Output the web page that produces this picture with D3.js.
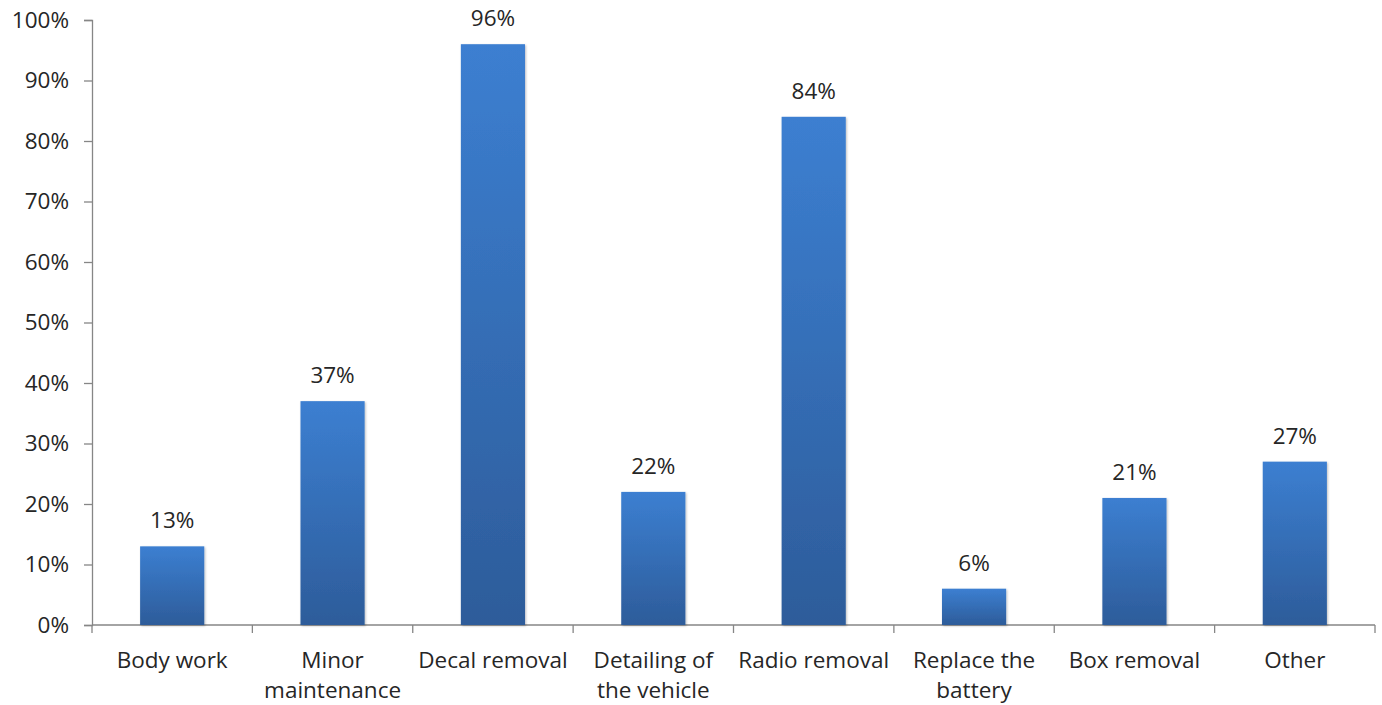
<!DOCTYPE html>
<html>
<head>
<meta charset="utf-8">
<script src="https://cdn.jsdelivr.net/npm/d3@7"></script>
<style>
  html, body { margin: 0; padding: 0; background: #fff; }
  svg text { font-family: "Open Sans", Lato, sans-serif; fill: #262626; }
</style>
</head>
<body>
<svg id="chart" width="1382" height="705"></svg>
<script>
// Share of vehicles needing each kind of work
const categories = [
  ["Body work"],
  ["Minor", "maintenance"],
  ["Decal removal"],
  ["Detailing of", "the vehicle"],
  ["Radio removal"],
  ["Replace the", "battery"],
  ["Box removal"],
  ["Other"]
];
const values = [13, 37, 96, 22, 84, 6, 21, 27];
const yTicks = [0, 10, 20, 30, 40, 50, 60, 70, 80, 90, 100];

const svg = d3.select("#chart");
const margin = { left: 92, right: 7, top: 20, bottom: 80 };
const width = 1382, height = 705;
const fontSize = "22.5px";

const x = d3.scaleBand()
  .domain(d3.range(categories.length))
  .range([margin.left, width - margin.right])
  .paddingInner(0.6)
  .paddingOuter(0.3);

const y = d3.scaleLinear()
  .domain([0, 100])
  .range([height - margin.bottom, margin.top]);

// vertical blue gradient used by every bar
const defs = svg.append("defs");
const grad = defs.append("linearGradient")
  .attr("id", "barFill").attr("x1", 0).attr("y1", 0).attr("x2", 0).attr("y2", 1);
grad.append("stop").attr("offset", "0%").attr("stop-color", "#3c7fd1");
grad.append("stop").attr("offset", "100%").attr("stop-color", "#2d5c9a");

const shadow = defs.append("filter").attr("id", "shadow")
  .attr("x", "-20%").attr("y", "-20%").attr("width", "140%").attr("height", "140%");
shadow.append("feDropShadow").attr("dx", 1).attr("dy", 1).attr("stdDeviation", 1.2)
  .attr("flood-color", "#000").attr("flood-opacity", 0.25);

// y axis
const yAxis = d3.axisLeft(y)
  .tickValues(yTicks)
  .tickSize(8)
  .tickPadding(15)
  .tickFormat(d => d + "%");
const gy = svg.append("g")
  .attr("transform", `translate(${margin.left},0)`)
  .call(yAxis);
gy.select(".domain").attr("stroke", "#868686").attr("stroke-width", 1.3);
gy.selectAll(".tick line").attr("stroke", "#868686").attr("stroke-width", 1.3);
gy.selectAll(".tick text").style("font-size", fontSize).attr("fill", "#262626");

// x axis baseline with category separators
const x0 = margin.left, x1 = width - margin.right;
const gx = svg.append("g");
gx.append("line")
  .attr("x1", x0).attr("x2", x1)
  .attr("y1", y(0)).attr("y2", y(0))
  .attr("stroke", "#868686").attr("stroke-width", 1.3);
gx.selectAll("line.sep")
  .data(d3.range(categories.length + 1))
  .join("line").attr("class", "sep")
  .attr("x1", i => x0 + i * (x1 - x0) / categories.length)
  .attr("x2", i => x0 + i * (x1 - x0) / categories.length)
  .attr("y1", y(0)).attr("y2", y(0) + 8)
  .attr("stroke", "#868686").attr("stroke-width", 1.3);

// bars
svg.append("g")
  .selectAll("rect")
  .data(values)
  .join("rect")
  .attr("x", (d, i) => x(i))
  .attr("y", d => y(d))
  .attr("width", x.bandwidth())
  .attr("height", d => y(0) - y(d))
  .attr("fill", "url(#barFill)")
  .attr("filter", "url(#shadow)");

// value labels
svg.append("g")
  .selectAll("text")
  .data(values)
  .join("text")
  .attr("x", (d, i) => x(i) + x.bandwidth() / 2)
  .attr("y", d => y(d) - 18)
  .attr("text-anchor", "middle")
  .style("font-size", fontSize)
  .text(d => d + "%");

// category labels (one or two lines)
const cat = svg.append("g")
  .selectAll("text")
  .data(categories)
  .join("text")
  .attr("x", (d, i) => x(i) + x.bandwidth() / 2)
  .attr("y", y(0) + 43)
  .attr("text-anchor", "middle")
  .style("font-size", fontSize);
cat.selectAll("tspan")
  .data(d => d)
  .join("tspan")
  .attr("x", function () { return this.parentNode.getAttribute("x"); })
  .attr("dy", (d, i) => i === 0 ? 0 : 29.5)
  .text(d => d);
</script>
</body>
</html>
